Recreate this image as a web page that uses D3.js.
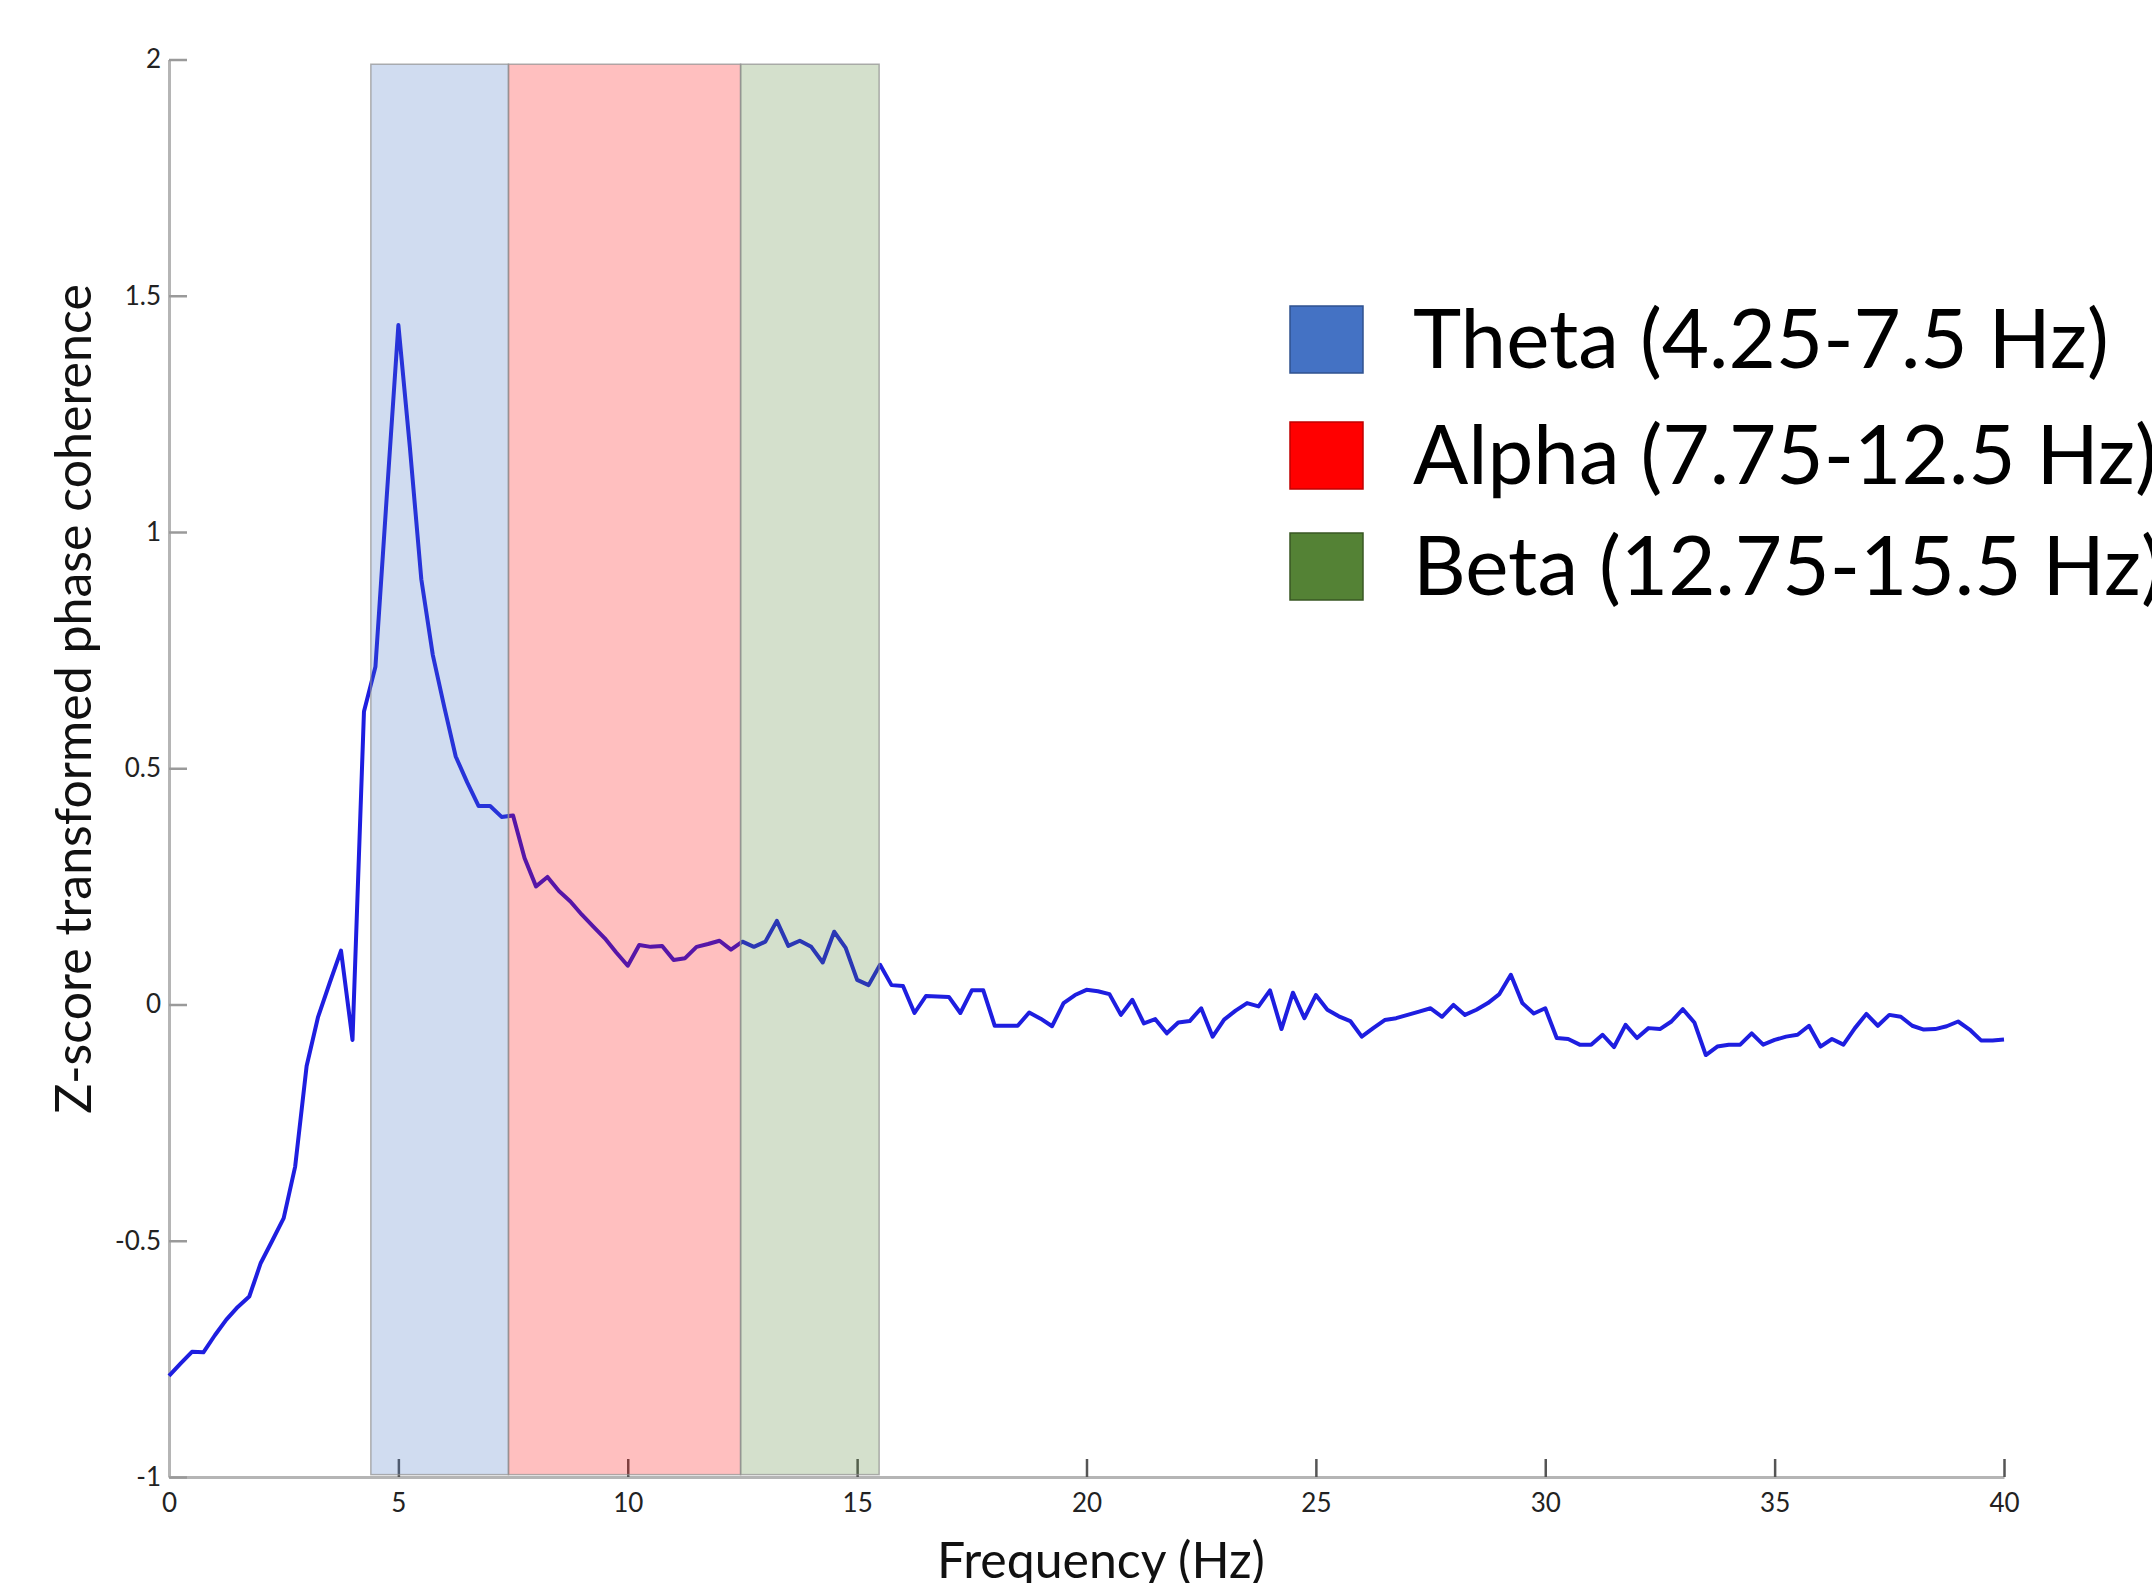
<!DOCTYPE html>
<html>
<head>
<meta charset="utf-8">
<script src="https://cdn.jsdelivr.net/npm/d3@7"></script>
<style>
  html, body { margin: 0; padding: 0; background: #fff; overflow: hidden; }
  svg { display: block; font-family: Lato, "Open Sans", sans-serif; }
  .axis .domain { stroke: #b5b5b5; stroke-width: 3; }
  .axis text { fill: #222; }
  .y-axis .tick line { stroke: #9a9a9a; stroke-width: 2.5; }
  .x-axis .tick line { stroke: #555; stroke-width: 2.5; }
</style>
</head>
<body>
<div id="chart"></div>
<script>
/* ─────────────────────────────────────────────────────────────
   Z-score phase coherence vs frequency, with EEG band overlays
───────────────────────────────────────────────────────────── */

// ── Data ─────────────────────────────────────────────────────
const FREQ_START = 0;
const FREQ_STEP  = 0.25;   // Hz between samples
const COHERENCE = [
  -0.786, -0.76, -0.735, -0.736, -0.70, -0.667, -0.64, -0.618,   // 0 – 1.75
  -0.547, -0.50, -0.452, -0.343, -0.13, -0.026, 0.045, 0.114,    // 2 – 3.75
  -0.075, 0.62, 0.715, 1.08, 1.438, 1.18, 0.90, 0.74,            // 4 – 5.75
  0.63, 0.525, 0.47, 0.42, 0.42, 0.397, 0.40, 0.31,              // 6 – 7.75
  0.25, 0.27, 0.24, 0.218, 0.19, 0.165, 0.14, 0.11,              // 8 – 9.75
  0.082, 0.126, 0.122, 0.124, 0.094, 0.098, 0.122, 0.128,        // 10 – 11.75
  0.135, 0.116, 0.133, 0.122, 0.133, 0.177, 0.124, 0.135,        // 12 – 13.75
  0.122, 0.089, 0.154, 0.12, 0.052, 0.041, 0.084, 0.041,         // 14 – 15.75
  0.039, -0.018, 0.018, 0.017, 0.016, -0.018, 0.03, 0.03,        // 16 – 17.75
  -0.045, -0.045, -0.045, -0.017, -0.03, -0.046, 0.003, 0.02,    // 18 – 19.75
  0.031, 0.028, 0.022, -0.022, 0.01, -0.04, -0.031, -0.061,      // 20 – 21.75
  -0.038, -0.035, -0.008, -0.068, -0.032, -0.013, 0.003, -0.004, // 22 – 23.75
  0.03, -0.052, 0.025, -0.029, 0.02, -0.011, -0.025, -0.035,     // 24 – 25.75
  -0.068, -0.05, -0.033, -0.029, -0.022, -0.015, -0.008, -0.026, // 26 – 27.75
  -0.001, -0.022, -0.011, 0.003, 0.022, 0.063, 0.003, -0.019,    // 28 – 29.75
  -0.008, -0.071, -0.073, -0.085, -0.085, -0.064, -0.09, -0.043, // 30 – 31.75
  -0.071, -0.05, -0.052, -0.036, -0.01, -0.038, -0.107, -0.089,  // 32 – 33.75
  -0.085, -0.085, -0.061, -0.085, -0.075, -0.068, -0.064, -0.045,// 34 – 35.75
  -0.089, -0.073, -0.085, -0.05, -0.02, -0.045, -0.022, -0.026,  // 36 – 37.75
  -0.045, -0.053, -0.052, -0.046, -0.036, -0.053, -0.076, -0.076,// 38 – 39.75
  -0.074                                                         // 40
];

// shaded frequency bands (edges as drawn) + legend text
const BAND_NAMES  = ["Theta", "Alpha", "Beta"];
const BAND_FROM   = [4.4, 7.4, 12.46];
const BAND_TO     = [7.4, 12.46, 15.48];
const BAND_LABELS = ["Theta (4.25-7.5 Hz)", "Alpha (7.75-12.5 Hz)", "Beta (12.75-15.5 Hz)"];
const BAND_COLOR  = { Theta: "#4472c4", Alpha: "#ff0000", Beta: "#548235" };
const BAND_EDGE   = { Theta: "#2f528f", Alpha: "#c00000", Beta: "#385723" };

const X_TICKS = [0, 5, 10, 15, 20, 25, 30, 35, 40];
const Y_TICKS = [-1, -0.5, 0, 0.5, 1, 1.5, 2];
const X_LABEL = "Frequency (Hz)";
const Y_LABEL = "Z-score transformed phase coherence";

// ── Dimensions ───────────────────────────────────────────────
const W = 2152, H = 1583;
const PLOT = { left: 169, right: 2004, top: 59.5, bottom: 1477 };

const points = COHERENCE.map((v, i) => ({ f: FREQ_START + i * FREQ_STEP, v }));

const svg = d3.select("#chart").append("svg")
  .attr("width", W).attr("height", H);

const x = d3.scaleLinear().domain([0, 40]).range([PLOT.left, PLOT.right]);
const y = d3.scaleLinear().domain([-1, 2]).range([PLOT.bottom, PLOT.top]);

// ── Axes (ticks point inward, MATLAB style) ──────────────────
svg.append("g").attr("class", "axis x-axis")
  .attr("transform", `translate(0,${PLOT.bottom})`)
  .call(d3.axisBottom(x).tickValues(X_TICKS).tickSizeInner(-18).tickSizeOuter(0)
    .tickPadding(17).tickFormat(d => String(d)))
  .selectAll("text").attr("font-size", 26).attr("font-family", "Lato, sans-serif");

svg.append("g").attr("class", "axis y-axis")
  .attr("transform", `translate(${PLOT.left},0)`)
  .call(d3.axisLeft(y).tickValues(Y_TICKS).tickSizeInner(-18).tickSizeOuter(0)
    .tickPadding(8).tickFormat(d => String(d)))
  .selectAll("text").attr("font-size", 26).attr("font-family", "Lato, sans-serif");

// ── Coherence line ───────────────────────────────────────────
const line = d3.line().x(d => x(d.f)).y(d => y(d.v));
svg.append("path")
  .datum(points)
  .attr("fill", "none")
  .attr("stroke", "#1e1ee0")
  .attr("stroke-width", 4)
  .attr("stroke-linejoin", "round")
  .attr("d", line);

// ── Band overlays (semi-transparent, on top of the line) ─────
svg.append("g").selectAll("rect")
  .data(BAND_NAMES)
  .join("rect")
  .attr("x", (d, i) => x(BAND_FROM[i]))
  .attr("width", (d, i) => x(BAND_TO[i]) - x(BAND_FROM[i]))
  .attr("y", y(1.99))
  .attr("height", y(-0.995) - y(1.99))
  .attr("fill", d => BAND_COLOR[d])
  .attr("fill-opacity", 0.25)
  .attr("stroke", "#8f8f8f")
  .attr("stroke-opacity", 0.7)
  .attr("stroke-width", 1.5);

// ── Axis titles ──────────────────────────────────────────────
function fitText(sel, target) {
  const len = sel.node().getComputedTextLength();
  const fs = parseFloat(sel.attr("font-size"));
  sel.attr("font-size", fs * target / len);
}

const xTitle = svg.append("text")
  .attr("x", 1101).attr("y", 1578)
  .attr("text-anchor", "middle")
  .attr("font-size", 42).attr("fill", "#111")
  .text(X_LABEL);
fitText(xTitle, 328);

const yTitle = svg.append("text")
  .attr("transform", "translate(91,699) rotate(-90)")
  .attr("text-anchor", "middle")
  .attr("font-size", 40).attr("fill", "#111")
  .text(Y_LABEL);
fitText(yTitle, 830);

// ── Legend ───────────────────────────────────────────────────
const LEG_Y = [306, 422, 533];   // top of each swatch
const legend = svg.append("g");
legend.selectAll("rect")
  .data(BAND_NAMES)
  .join("rect")
  .attr("x", 1290).attr("y", (d, i) => LEG_Y[i])
  .attr("width", 73).attr("height", 67)
  .attr("fill", d => BAND_COLOR[d])
  .attr("stroke", d => BAND_EDGE[d])
  .attr("stroke-width", 1.5);

const legText = legend.selectAll("text")
  .data(BAND_LABELS)
  .join("text")
  .attr("x", 1413).attr("y", (d, i) => LEG_Y[i] + 62)
  .attr("font-size", 75).attr("fill", "#000")
  .text(d => d);

// scale legend font so the Theta entry spans the same width as the reference
const thetaLen = legText.nodes()[0].getComputedTextLength();
legText.attr("font-size", 75 * 696 / thetaLen);
</script>
</body>
</html>
